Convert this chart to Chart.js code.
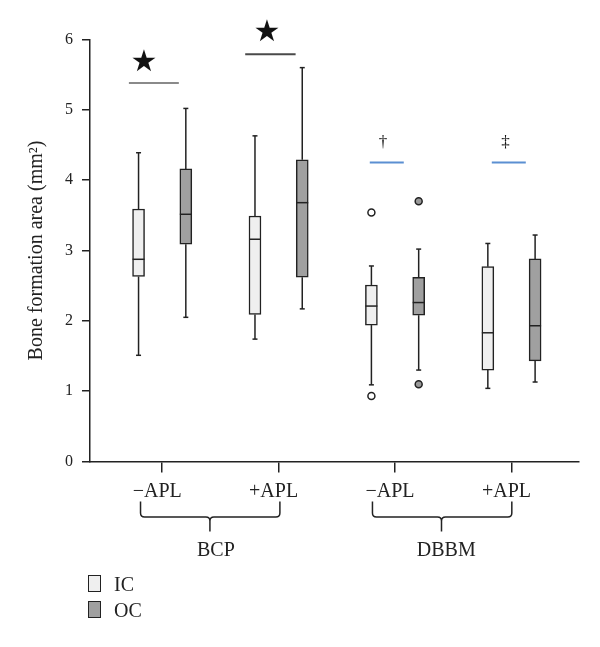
<!DOCTYPE html>
<html>
<head>
<meta charset="utf-8">
<script src="https://cdn.jsdelivr.net/npm/chart.js@4.4.1/dist/chart.umd.min.js"></script>
<style>
  body { margin: 0; background: #fff; }
  #wrap { position: relative; width: 600px; height: 647px; }
  #legend { position: absolute; left: 88px; top: 575px; font-family: "Liberation Serif", serif; font-size: 20px; color: #222; }
  .item { height: 26px; display: flex; align-items: flex-start; line-height: 18px; }
  .sw { width: 11px; height: 15px; border: 1.5px solid #222; margin-right: 13px; }
</style>
</head>
<body>
<div id="wrap">
  <canvas id="grafica" width="600" height="647"></canvas>
  <div id="legend">
    <div class="item"><span class="sw" style="background:#efefef"></span>IC</div>
    <div class="item"><span class="sw" style="background:#a0a0a0"></span>OC</div>
  </div>
</div>
<script>
// =========================
// DATOS
// =========================
const categorias = ["−APL", "+APL", "−APL", "+APL"];
const catX = [1, 2, 3, 4];
const grupos = ["BCP", "DBBM"];
const grupoDesde = [0.814, 2.806];
const grupoHasta = [2.011, 4.003];
const grupoMedio = [1.41, 3.399];
const grupoTextoX = [1.461, 3.44];
const yTicks = [0, 1, 2, 3, 4, 5, 6];

// IC
const icMin = [1.51, 1.74, 1.09, 1.04];
const icQ1 = [2.63, 2.09, 1.94, 1.30];
const icMed = [2.875, 3.16, 2.21, 1.83];
const icQ3 = [3.59, 3.49, 2.51, 2.77];
const icMax = [4.39, 4.63, 2.78, 3.10];
const icOut = [[], [], [3.54, 0.93], []];

// OC
const ocMin = [2.05, 2.17, 1.30, 1.13];
const ocQ1 = [3.09, 2.62, 2.08, 1.43];
const ocMed = [3.515, 3.68, 2.26, 1.93];
const ocQ3 = [4.16, 4.29, 2.62, 2.88];
const ocMax = [5.02, 5.60, 3.02, 3.22];
const ocOut = [[], [], [3.70, 1.10], []];

// significancia
const sigDesde = [0.714, 1.713, 2.783, 3.831];
const sigHasta = [1.143, 2.146, 3.075, 4.123];
const sigY = [5.38, 5.79, 4.25, 4.25];
const sigMarca = ["★", "★", "†", "‡"];
const marcaX = [0.843, 1.899, 2.897, 3.948];
const marcaY = [5.67, 6.09, 4.54, 4.54];
const sigColor = ["#8a8a8a", "#4a4a4a", "#5b8fd2", "#5b8fd2"];

const DESP = 0.203;
const SERIF = "'Liberation Serif', serif";

const cajas = [
    { label: "IC", off: -DESP, min: icMin, q1: icQ1, med: icMed, q3: icQ3, max: icMax, out: icOut, color: "#efefef" },
    { label: "OC", off: DESP, min: ocMin, q1: ocQ1, med: ocMed, q3: ocQ3, max: ocMax, out: ocOut, color: "#a0a0a0" }
];

const datasets = [];

cajas.forEach(c => {
    datasets.push({
        type: "bar",
        label: c.label,
        data: catX.map((x, i) => ({ x: x + c.off, y: [c.q1[i], c.q3[i]] })),
        backgroundColor: c.color,
        borderColor: "#222",
        borderWidth: 1.5,
        borderSkipped: false,
        barThickness: 12,
        grouped: false
    });
});

cajas.forEach(c => {
    const pts = [];
    c.out.forEach((lista, i) => lista.forEach(v => pts.push({ x: catX[i] + c.off, y: v })));
    datasets.push({
        type: "scatter",
        label: c.label + " atípicos",
        data: pts,
        pointRadius: 3.5,
        pointBackgroundColor: c.label === "IC" ? "#fff" : "#999",
        pointBorderColor: "#222",
        pointBorderWidth: 1.5
    });
});

sigY.forEach((v, i) => {
    datasets.push({
        type: "line",
        label: "sig" + i,
        data: [{ x: sigDesde[i], y: v }, { x: sigHasta[i], y: v }],
        borderColor: sigColor[i],
        borderWidth: 2,
        pointRadius: 0
    });
});

// =========================
// PLUGIN BIGOTES / MARCAS
// =========================
const extras = {
    id: "extras",
    afterDatasetsDraw(chart) {
        const { ctx, scales: { x, y } } = chart;
        ctx.save();
        ctx.strokeStyle = "#222";
        ctx.lineWidth = 1.5;
        cajas.forEach(c => {
            catX.forEach((cx, i) => {
                const px = x.getPixelForValue(cx + c.off);
                const seg = (a, b) => {
                    ctx.beginPath();
                    ctx.moveTo(px, y.getPixelForValue(a));
                    ctx.lineTo(px, y.getPixelForValue(b));
                    ctx.stroke();
                };
                seg(c.q3[i], c.max[i]);
                seg(c.q1[i], c.min[i]);
                [c.max[i], c.min[i]].forEach(v => {
                    const py = y.getPixelForValue(v);
                    ctx.beginPath();
                    ctx.moveTo(px - 2.5, py);
                    ctx.lineTo(px + 2.5, py);
                    ctx.stroke();
                });
                const pm = y.getPixelForValue(c.med[i]);
                ctx.beginPath();
                ctx.moveTo(px - 6, pm);
                ctx.lineTo(px + 6, pm);
                ctx.stroke();
            });
        });

        ctx.fillStyle = "#111";
        ctx.textAlign = "center";
        ctx.textBaseline = "middle";
        sigMarca.forEach((m, i) => {
            ctx.font = m === "★" ? "30px 'DejaVu Sans'" : "17px " + SERIF;
            ctx.fillText(m, x.getPixelForValue(marcaX[i]), y.getPixelForValue(marcaY[i]));
        });
        ctx.restore();
    },
    afterDraw(chart) {
        const { ctx, scales: { x, y } } = chart;
        const base = y.bottom;
        ctx.save();
        ctx.strokeStyle = "#222";
        ctx.lineWidth = 1.5;
        grupos.forEach((g, i) => {
            const x0 = x.getPixelForValue(grupoDesde[i]);
            const x1 = x.getPixelForValue(grupoHasta[i]);
            const xm = x.getPixelForValue(grupoMedio[i]);
            const top = base + 40, mid = base + 55.5, bot = base + 70;
            ctx.beginPath();
            ctx.moveTo(x0, top);
            ctx.lineTo(x0, mid - 4);
            ctx.quadraticCurveTo(x0, mid, x0 + 4, mid);
            ctx.lineTo(xm - 4, mid);
            ctx.quadraticCurveTo(xm, mid, xm, mid + 4);
            ctx.lineTo(xm, bot);
            ctx.moveTo(xm, mid + 4);
            ctx.quadraticCurveTo(xm, mid, xm + 4, mid);
            ctx.lineTo(x1 - 4, mid);
            ctx.quadraticCurveTo(x1, mid, x1, mid - 4);
            ctx.lineTo(x1, top);
            ctx.stroke();

            ctx.fillStyle = "#222";
            ctx.font = "20px " + SERIF;
            ctx.textAlign = "center";
            ctx.textBaseline = "alphabetic";
            ctx.fillText(g, x.getPixelForValue(grupoTextoX[i]), base + 94.5);
        });
        ctx.restore();
    }
};

// =========================
// GRÁFICA
// =========================
const ctx = document.getElementById("grafica").getContext("2d");

new Chart(ctx, {
    type: "bar",
    data: { datasets },
    plugins: [extras],
    options: {
        responsive: false,
        animation: false,
        layout: { padding: { left: 0, top: 39.5, right: 21, bottom: 0 } },
        plugins: { legend: { display: false }, tooltip: { enabled: false } },
        scales: {
            x: {
                type: "linear",
                min: 0.38,
                max: 4.58,
                offset: false,
                afterFit: s => { s.height = 185.5; },
                afterBuildTicks: s => { s.ticks = catX.map(v => ({ value: v })); },
                grid: { offset: false, drawOnChartArea: false, tickLength: 11, color: "#222", lineWidth: 1.5 },
                border: { color: "#222", width: 1.5 },
                ticks: {
                    autoSkip: false,
                    maxRotation: 0,
                    padding: 7,
                    labelOffset: -5,
                    color: "#222",
                    font: { family: SERIF, size: 20 },
                    callback: v => categorias[catX.indexOf(v)]
                }
            },
            y: {
                min: 0,
                max: 6,
                afterFit: s => { s.width = 90; },
                afterBuildTicks: s => { s.ticks = yTicks.map(v => ({ value: v })); },
                grid: { drawOnChartArea: false, tickLength: 8, color: "#222", lineWidth: 1.5 },
                border: { color: "#222", width: 1.5 },
                ticks: { padding: 9, color: "#222", font: { family: SERIF, size: 16 } },
                title: {
                    display: true,
                    text: "Bone formation area (mm²)",
                    color: "#222",
                    font: { family: SERIF, size: 20 },
                    padding: { top: 25, bottom: 0 }
                }
            }
        }
    }
});
</script>
</body>
</html>
